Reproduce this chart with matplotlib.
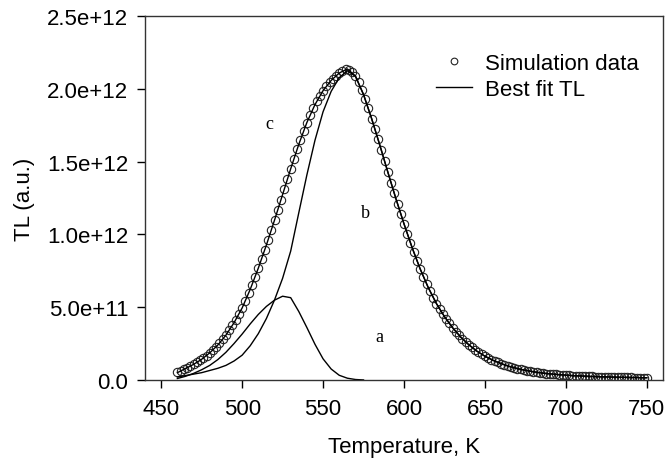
#%%
#1. Import packages
import numpy as np
import matplotlib
matplotlib.use('Agg')
import matplotlib.pyplot as plt
from matplotlib.ticker import FixedLocator, FixedFormatter

#%%
#2. Data (TL in units of 1e12)
# simulation points, 2 K step
sim_T = list(range(460, 752, 2))
sim_TL = [0.055, 0.064, 0.073, 0.083, 0.095, 0.107, 0.120, 0.134, 0.150, 0.167,
          0.186, 0.206, 0.228, 0.252, 0.279, 0.308, 0.340, 0.375, 0.412, 0.451,
          0.494, 0.540, 0.595, 0.650, 0.708, 0.768, 0.830, 0.894, 0.960, 1.028,
          1.097, 1.167, 1.238, 1.309, 1.380, 1.450, 1.519, 1.586, 1.650, 1.711,
          1.768, 1.821, 1.869, 1.913, 1.952, 1.987, 2.018, 2.045, 2.069, 2.090,
          2.108, 2.125, 2.138, 2.132, 2.115, 2.088, 2.045, 1.990, 1.930, 1.865,
          1.795, 1.725, 1.652, 1.578, 1.503, 1.428, 1.354, 1.281, 1.210, 1.140,
          1.072, 1.005, 0.940, 0.878, 0.818, 0.762, 0.708, 0.658, 0.610, 0.566,
          0.525, 0.487, 0.452, 0.419, 0.388, 0.359, 0.332, 0.307, 0.284, 0.262,
          0.242, 0.223, 0.206, 0.190, 0.176, 0.163, 0.151, 0.140, 0.130, 0.121,
          0.112, 0.104, 0.097, 0.090, 0.084, 0.078, 0.073, 0.068, 0.064, 0.060,
          0.056, 0.053, 0.050, 0.047, 0.044, 0.042, 0.040, 0.038, 0.036, 0.034,
          0.033, 0.031, 0.030, 0.029, 0.028, 0.027, 0.026, 0.025, 0.024, 0.023,
          0.022, 0.022, 0.021, 0.020, 0.020, 0.019, 0.019, 0.018, 0.018, 0.017,
          0.017, 0.016, 0.016, 0.016, 0.015, 0.015]

# best fit TL, 5 K step
fit_T = list(range(460, 755, 5))
fit_TL = [0.050, 0.078, 0.107, 0.142, 0.186, 0.240, 0.308, 0.393, 0.494, 0.622,
          0.768, 0.927, 1.097, 1.273, 1.450, 1.618, 1.768, 1.891, 1.987, 2.057,
          2.108, 2.136, 2.088, 1.960, 1.795, 1.615, 1.428, 1.245, 1.072, 0.909,
          0.762, 0.634, 0.525, 0.435, 0.359, 0.295, 0.242, 0.198, 0.163, 0.135,
          0.112, 0.093, 0.078, 0.066, 0.056, 0.048, 0.042, 0.037, 0.033, 0.029,
          0.027, 0.024, 0.022, 0.021, 0.019, 0.018, 0.017, 0.016, 0.015]

# component a
a_T = list(range(460, 580, 5))
a_TL = [0.010, 0.025, 0.045, 0.070, 0.100, 0.140, 0.190, 0.250, 0.315, 0.385,
        0.450, 0.505, 0.548, 0.575, 0.565, 0.470, 0.360, 0.245, 0.145, 0.075,
        0.032, 0.012, 0.003, 0.000]

# component b
b_T = list(range(460, 755, 5))
b_TL = [0.020, 0.030, 0.040, 0.050, 0.065, 0.080, 0.100, 0.130, 0.170, 0.235,
        0.318, 0.422, 0.549, 0.698, 0.885, 1.148, 1.408, 1.646, 1.842, 1.982,
        2.076, 2.124, 2.085, 1.960, 1.795, 1.615, 1.428, 1.245, 1.072, 0.909,
        0.762, 0.634, 0.525, 0.435, 0.359, 0.295, 0.242, 0.198, 0.163, 0.135,
        0.112, 0.093, 0.078, 0.066, 0.056, 0.048, 0.042, 0.037, 0.033, 0.029,
        0.027, 0.024, 0.022, 0.021, 0.019, 0.018, 0.017, 0.016, 0.015]

x_ticks = [450, 500, 550, 600, 650, 700, 750]
y_ticks = [0.0, 0.5e12, 1.0e12, 1.5e12, 2.0e12, 2.5e12]
y_tick_labels = ['0.0', '5.0e+11', '1.0e+12', '1.5e+12', '2.0e+12', '2.5e+12']

# peak labels: (text, T, TL)
peak_labels = [('c', 517, 1.76e12), ('b', 576, 1.15e12), ('a', 585, 0.30e12)]

#%%
#3. Plot
plt.rcParams['font.family'] = ['Liberation Sans', 'DejaVu Sans']
fig = plt.figure(figsize=(6.67, 4.64), dpi=100)
ax = fig.add_axes([0.2174, 0.179, 0.7766, 0.7845])

scale = 1e12
ax.plot(sim_T, np.array(sim_TL) * scale, linestyle='none', marker='o', markersize=6,
        markerfacecolor='none', markeredgecolor='#222222', markeredgewidth=0.8,
        label='Simulation data')
ax.plot(fit_T, np.array(fit_TL) * scale, color='black', linewidth=1.0, label='Best fit TL')
ax.plot(a_T, np.array(a_TL) * scale, color='black', linewidth=1.0)
ax.plot(b_T, np.array(b_TL) * scale, color='black', linewidth=1.0)

for txt, t, v in peak_labels:
    ax.text(t, v, txt, fontsize=13, family='Liberation Serif', ha='center', va='center')

ax.set_xlim(440, 760)
ax.set_ylim(0, 2.5e12)
ax.xaxis.set_major_locator(FixedLocator(x_ticks))
ax.yaxis.set_major_locator(FixedLocator(y_ticks))
ax.yaxis.set_major_formatter(FixedFormatter(y_tick_labels))
ax.tick_params(axis='both', direction='out', length=6, width=1, labelsize=16,
               top=False, right=False)
ax.tick_params(axis='x', pad=7)
ax.tick_params(axis='y', pad=6)
for s in ax.spines.values():
    s.set_linewidth(1.0)
    s.set_color('#333333')

ax.set_xlabel('Temperature, K', fontsize=16, labelpad=12)
ax.set_ylabel('TL (a.u.)', fontsize=16, labelpad=9)

ax.legend(loc='upper left', bbox_to_anchor=(0.545, 0.922), frameon=False, fontsize=16,
          handlelength=1.6, handletextpad=0.6, labelspacing=0.2, borderaxespad=0,
          markerscale=0.8)

fig.savefig('out.png', dpi=100)
